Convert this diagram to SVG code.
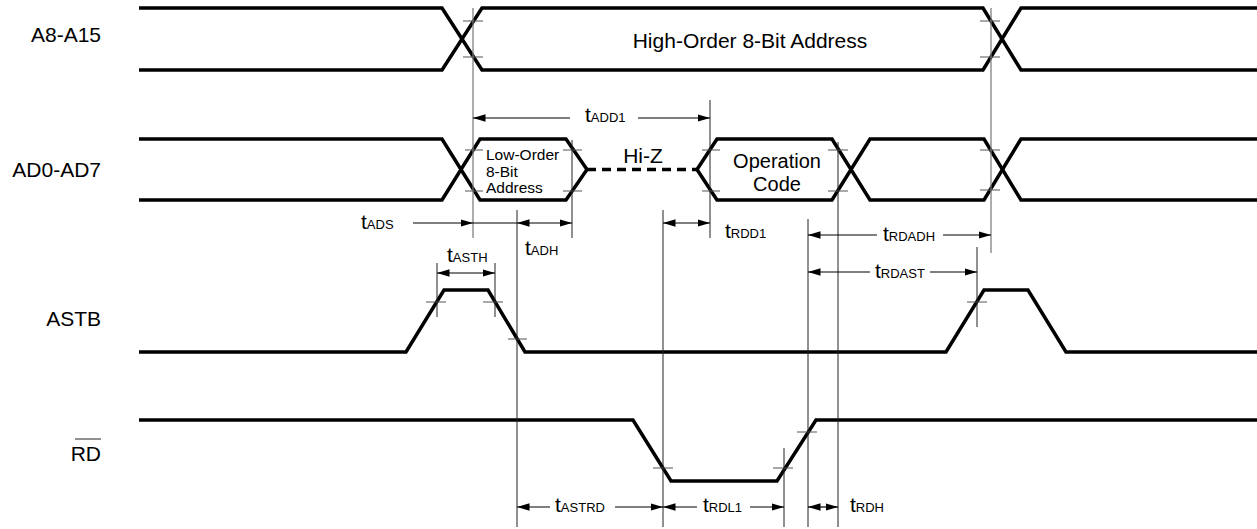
<svg xmlns="http://www.w3.org/2000/svg" width="1257" height="529" viewBox="0 0 1257 529">
<style>
.sig{fill:none;stroke:#000;stroke-width:3.5;stroke-linejoin:miter}
.dash{fill:none;stroke:#000;stroke-width:3.5;stroke-dasharray:9,6}
.thin{stroke:#222;stroke-width:1;fill:none}
.grey{stroke:#777;stroke-width:1.2;fill:none}
.tick{stroke:#555;stroke-width:1.2;fill:none}
.arr{stroke:#000;stroke-width:1.2;fill:none}
.lbl{font-family:"Liberation Sans",Arial,Helvetica,sans-serif;font-size:21px;fill:#000}
.op{font-family:"Liberation Sans",Arial,Helvetica,sans-serif;font-size:20px;fill:#000}
.small{font-family:"Liberation Sans",Arial,Helvetica,sans-serif;font-size:15.5px;fill:#000}
.t{font-family:"Liberation Sans",Arial,Helvetica,sans-serif;font-size:21px;fill:#000}
.sub{font-size:13px}
</style>
<defs>
<marker id="ah" markerUnits="userSpaceOnUse" markerWidth="13" markerHeight="8" refX="12.5" refY="4" orient="auto-start-reverse">
<path d="M0,0.3 L12.5,4 L0,7.7 z" fill="#000"/>
</marker>
</defs>
<rect width="1257" height="529" fill="#fff"/>

<g id="A8-A15">
<text class="lbl" x="101" y="42" text-anchor="end">A8-A15</text>
<path class="sig" d="M139,8 H442 L482,70 H983 L1021,8 H1257"/>
<path class="sig" d="M139,70 H442 L482,8 H983 L1021,70 H1257"/>
<text class="lbl" x="750" y="48" text-anchor="middle">High-Order 8-Bit Address</text>
<path class="tick" d="M463,21 H483 M463,57 H483 M980,21 H1000 M980,57 H1000"/>
</g>

<g id="AD0-AD7">
<text class="lbl" x="101" y="177" text-anchor="end">AD0-AD7</text>
<path class="sig" d="M139,139 H442 L480,200 H566 L587,169.5"/>
<path class="sig" d="M139,200 H442 L480,139 H566 L587,169.5"/>
<path class="dash" d="M587,169.5 H697"/>
<path class="sig" d="M697,169.5 L717,139 H832 L870,200 H984 L1021,139 H1257"/>
<path class="sig" d="M697,169.5 L717,200 H832 L870,139 H984 L1021,200 H1257"/>
<text class="small" x="486" y="160">Low-Order</text>
<text class="small" x="486" y="177">8-Bit</text>
<text class="small" x="486" y="193">Address</text>
<text class="lbl" x="643" y="163" text-anchor="middle">Hi-Z</text>
<text class="op" x="777" y="168" text-anchor="middle">Operation</text>
<text class="op" x="777" y="191" text-anchor="middle">Code</text>
<path class="tick" d="M465,150 H483 M465,191 H483 M563,150 H582 M563,191 H582 M702,150 H720 M702,191 H720 M828,150 H848 M828,191 H848 M980,150 H1000 M980,190 H1000"/>
</g>

<g id="ASTB">
<text class="lbl" x="101" y="326" text-anchor="end">ASTB</text>
<path class="sig" d="M139,352 H406 L444,290 H488 L525,352 H946 L984,290 H1028 L1066,352 H1257"/>
<path class="tick" d="M426,302 H446 M483,302 H503 M508,339 H527 M967,302 H987"/>
</g>

<g id="RD">
<text class="lbl" x="101" y="461" text-anchor="end">RD</text>
<line class="thin" x1="75" y1="439" x2="101" y2="439" stroke-width="1.3"/>
<path class="sig" d="M139,420 H633 L671,481 H777 L816,420 H1257"/>
<path class="tick" d="M653,468 H673 M773,468 H793 M797,432 H817"/>
</g>

<g id="connectors">
<path class="grey" d="M473,8 V238 M991,8 V253"/>
<path class="thin" d="M710,100 V238 M572,140 V238 M517,210 V527 M663,210 V527 M808,219 V527 M838,142 V527 M977,247 V327 M437,263 V317 M495,263 V317 M784,448 V527"/>

<line class="arr" x1="473" y1="118" x2="570" y2="118" marker-start="url(#ah)"/>
<line class="arr" x1="638" y1="118" x2="710" y2="118" marker-end="url(#ah)"/>
<text class="t" x="585" y="122">t<tspan class="sub">ADD1</tspan></text>

<line class="arr" x1="413" y1="223" x2="473" y2="223" marker-end="url(#ah)"/>
<line class="arr" x1="473" y1="223" x2="517" y2="223"/>
<text class="t" x="361" y="229">t<tspan class="sub">ADS</tspan></text>

<line class="arr" x1="517" y1="223" x2="572" y2="223" marker-start="url(#ah)" marker-end="url(#ah)"/>
<text class="t" x="525" y="255">t<tspan class="sub">ADH</tspan></text>

<line class="arr" x1="663" y1="223" x2="710" y2="223" marker-start="url(#ah)" marker-end="url(#ah)"/>
<text class="t" x="725" y="238">t<tspan class="sub">RDD1</tspan></text>

<line class="arr" x1="437" y1="273" x2="495" y2="273" marker-start="url(#ah)" marker-end="url(#ah)"/>
<text class="t" x="447" y="262">t<tspan class="sub">ASTH</tspan></text>

<line class="arr" x1="808" y1="235" x2="877" y2="235" marker-start="url(#ah)"/>
<line class="arr" x1="943" y1="235" x2="991" y2="235" marker-end="url(#ah)"/>
<text class="t" x="883" y="241">t<tspan class="sub">RDADH</tspan></text>

<line class="arr" x1="808" y1="272" x2="870" y2="272" marker-start="url(#ah)"/>
<line class="arr" x1="930" y1="272" x2="977" y2="272" marker-end="url(#ah)"/>
<text class="t" x="875" y="278">t<tspan class="sub">RDAST</tspan></text>

<line class="arr" x1="517" y1="507" x2="550" y2="507" marker-start="url(#ah)"/>
<line class="arr" x1="615" y1="507" x2="663" y2="507" marker-end="url(#ah)"/>
<text class="t" x="555" y="512">t<tspan class="sub">ASTRD</tspan></text>

<line class="arr" x1="663" y1="507" x2="697" y2="507" marker-start="url(#ah)"/>
<line class="arr" x1="750" y1="507" x2="784" y2="507" marker-end="url(#ah)"/>
<text class="t" x="703" y="512">t<tspan class="sub">RDL1</tspan></text>

<line class="arr" x1="808" y1="507" x2="838" y2="507" marker-start="url(#ah)" marker-end="url(#ah)"/>
<text class="t" x="850" y="512">t<tspan class="sub">RDH</tspan></text>
</g>
</svg>
